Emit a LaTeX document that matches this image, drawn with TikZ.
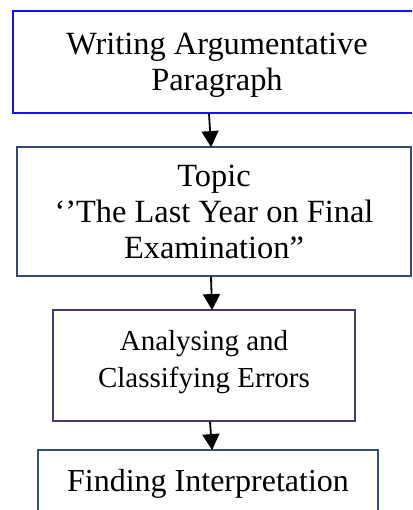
\documentclass[tikz,border=0pt]{standalone}
\usepackage{fontspec}
\setmainfont{Liberation Serif}
\usetikzlibrary{arrows.meta}
\definecolor{bblue}{RGB}{20,20,240}
\definecolor{bnavy}{RGB}{50,75,110}
\definecolor{bpurple}{RGB}{75,58,100}
\definecolor{bnavyb}{RGB}{52,80,122}
\tikzset{
  box/.style={draw, line width=1.8pt, align=center, inner sep=0pt, fill=white},
  arr/.style={line width=1.8pt, -{Triangle[width=17pt,length=16pt]}, shorten >=-1pt},
}
\begin{document}
\begin{tikzpicture}[x=1pt,y=-1pt]
\useasboundingbox (0,0) rectangle (412,510);
\clip (0,0) rectangle (412,510);
\node[box, draw=bblue, line width=1.5pt, minimum width=408pt, minimum height=102pt,
      font=\fontsize{32.4}{36}\selectfont, text depth=1pt] (b1) at (217,62)
  {Writing Argumentative\\Paragraph};
\node[box, draw=bnavy, minimum width=394pt, minimum height=129pt,
      font=\fontsize{32.4}{36}\selectfont] (b2) at (214,211.5)
  {Topic\\‘’The Last Year on Final\\Examination”};
\node[box, draw=bpurple, minimum width=302pt, minimum height=111pt,
      font=\fontsize{29}{37}\selectfont, text depth=14pt] (b3) at (204,365.5)
  {Analysing and\\Classifying Errors};
\node[box, draw=bnavyb, minimum width=340pt, minimum height=80pt,
      font=\fontsize{32}{36}\selectfont, text depth=19pt] (b4) at (208,490)
  {Finding Interpretation};
\draw[arr] ([xshift=-8pt]b1.south) -- ([xshift=-3pt]b2.north);
\draw[arr] ([xshift=-3pt]b2.south) -- ([xshift=8pt]b3.north);
\draw[arr] ([xshift=6pt]b3.south) -- ([xshift=4pt]b4.north);
\end{tikzpicture}
\end{document}
